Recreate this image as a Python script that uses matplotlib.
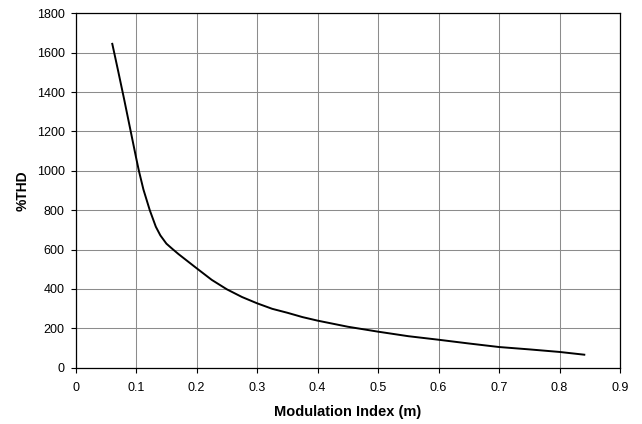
import matplotlib
matplotlib.use("Agg")
import matplotlib.pyplot as plt

# --- Data ---
mod_index = [0.0605, 0.07, 0.08, 0.091, 0.1, 0.1045, 0.112, 0.1225, 0.1325, 0.14, 0.15,
             0.16, 0.17, 0.18, 0.19, 0.2, 0.225, 0.25, 0.275, 0.3, 0.325, 0.35, 0.375,
             0.4, 0.45, 0.5, 0.55, 0.6, 0.65, 0.7, 0.75, 0.8, 0.841]
thd = [1645, 1510, 1365, 1200, 1065, 1000, 905, 800, 716, 672, 630,
       603, 577, 553, 529, 505, 446, 398, 359, 327, 299, 279, 257,
       239, 208, 183, 160, 142, 123, 105, 93, 80, 66]

x_ticks = [0, 0.1, 0.2, 0.3, 0.4, 0.5, 0.6, 0.7, 0.8, 0.9]
x_tick_labels = ["0", "0.1", "0.2", "0.3", "0.4", "0.5", "0.6", "0.7", "0.8", "0.9"]
y_ticks = [0, 200, 400, 600, 800, 1000, 1200, 1400, 1600, 1800]

plt.rcParams['font.family'] = ['Liberation Sans', 'DejaVu Sans']

fig = plt.figure(figsize=(6.42, 4.24), dpi=100)
ax = fig.add_axes([0.1179, 0.1328, 0.8478, 0.8358])

ax.plot(mod_index, thd, color='black', linewidth=1.4, solid_joinstyle='round')

ax.set_xlim(0, 0.9)
ax.set_ylim(0, 1800)
ax.set_xticks(x_ticks)
ax.set_xticklabels(x_tick_labels)
ax.set_yticks(y_ticks)

ax.grid(True, color='#8c8c8c', linewidth=0.75)
ax.set_axisbelow(True)

for spine in ax.spines.values():
    spine.set_color('black')
    spine.set_linewidth(0.9)

ax.tick_params(direction='out', length=3.5, width=0.8, labelsize=9, pad=4.5)
ax.tick_params(axis='x', pad=6.5)

ax.set_xlabel('Modulation Index (m)', fontsize=10.5, fontweight='bold', labelpad=8.5)
ax.set_ylabel('%THD', fontsize=10, fontweight='bold', labelpad=5)

fig.savefig('out.png', dpi=100)
